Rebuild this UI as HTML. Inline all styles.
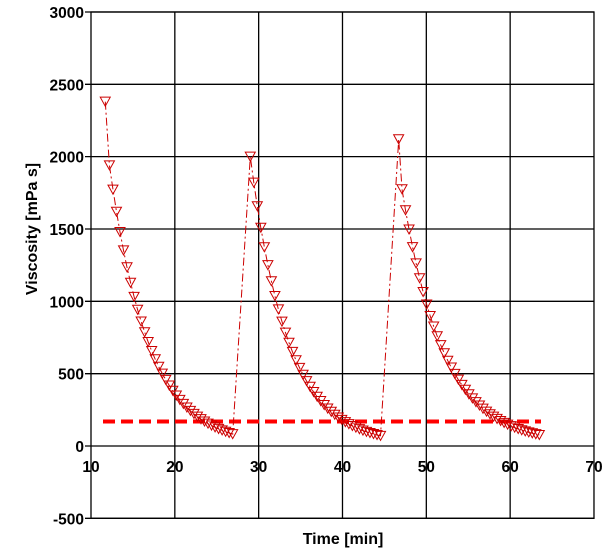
<!DOCTYPE html>
<html><head><meta charset="utf-8"><style>
body{margin:0;background:#fff}
svg{display:block}
text{font-family:"Liberation Sans",Arial,sans-serif;font-weight:bold;fill:#000}
</style></head><body>
<svg id="s" width="613" height="560" viewBox="0 0 613 560" xmlns="http://www.w3.org/2000/svg">
<rect width="613" height="560" fill="#fff"/>
<g id="grid" stroke="#000" stroke-width="1.3" fill="none"></g>
<g id="labels" font-size="15.5"></g>
<text x="343" y="544" font-size="16" text-anchor="middle">Time [min]</text>
<text transform="translate(37,229) rotate(-90)" font-size="16" text-anchor="middle">Viscosity [mPa s]</text>
<line x1="103" y1="421.5" x2="541" y2="421.5" stroke="#f00" stroke-width="4" stroke-dasharray="12,6"/>
<polyline id="ln" fill="none" stroke="#c00" stroke-width="1" stroke-dasharray="8,3,2,3"/>
<g id="mk" fill="none" stroke="#c00" stroke-width="1"></g>
</svg>
<script>
var NS="http://www.w3.org/2000/svg";
function X(t){return 91+(t-10)*8.383;}
function Y(v){return 446-v*0.14467;}
var g=document.getElementById('grid'),lb=document.getElementById('labels');
function el(p,n,a,txt){var e=document.createElementNS(NS,n);for(var k in a)e.setAttribute(k,a[k]);if(txt)e.textContent=txt;p.appendChild(e);return e;}
el(g,'rect',{x:X(10),y:Y(3000),width:X(70)-X(10),height:Y(-500)-Y(3000)});
for(var t=20;t<70;t+=10)el(g,'line',{x1:X(t),y1:Y(3000),x2:X(t),y2:Y(-500)});
for(var v=-500;v<=3000;v+=500){el(g,'line',{x1:X(10)-6,y1:Y(v),x2:X(70),y2:Y(v)});
 el(lb,'text',{x:84,y:Y(v)+6,'text-anchor':'end'},String(v));}
for(var t=10;t<=70;t+=10)el(lb,'text',{x:X(t),y:Y(0)+26,'text-anchor':'middle'},String(t));
var pts=[];
pts.push([11.7,2380]);
function seg(t0,t1,a,k,c){for(var t=t0;t<=t1+1e-6;t+=0.42)pts.push([t,a*Math.exp(-k*(t-t0))+c]);}
seg(12.2,27.0,1940,0.215,0);
seg(29.0,44.6,1990,0.225,10);
pts.push([46.7,2120]);
seg(47.1,63.5,1760,0.205,15);
var s="";pts.forEach(function(p){s+=X(p[0]).toFixed(1)+","+Y(p[1]).toFixed(1)+" ";});
document.getElementById('ln').setAttribute('points',s);
var mk=document.getElementById('mk');
pts.forEach(function(p){var x=X(p[0]),y=Y(p[1]);
 el(mk,'polygon',{points:(x-5)+","+(y-4.5)+" "+(x+5)+","+(y-4.5)+" "+x+","+(y+4.5)});});
</script>
</body></html>
